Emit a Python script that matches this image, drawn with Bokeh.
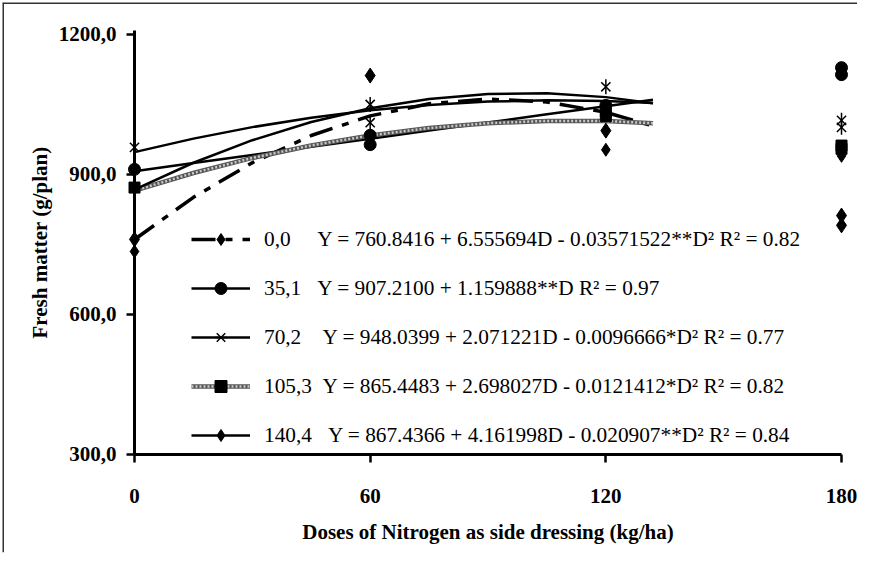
from bokeh.plotting import figure
from bokeh.models import Range1d, FixedTicker, Legend, LegendItem, Span
from bokeh.embed import file_html
from bokeh.resources import INLINE
import math

# ---- data ----
series_names = ["0,0", "35,1", "70,2", "105,3", "140,4"]
equations = [
    "Y = 760.8416 + 6.555694D - 0.03571522**D\u00b2 R\u00b2 = 0.82",
    "Y = 907.2100 + 1.159888**D R\u00b2 = 0.97",
    "Y = 948.0399 + 2.071221D - 0.0096666*D\u00b2 R\u00b2 = 0.77",
    "Y = 865.4483 + 2.698027D - 0.0121412*D\u00b2 R\u00b2 = 0.82",
    "Y = 867.4366 + 4.161998D - 0.020907**D\u00b2 R\u00b2 = 0.84",
]
label_gaps = [5, 3, 4, 2, 3]

# fitted curves (values along each regression line)
fit_x = [0, 15, 30, 45, 60, 75, 90, 105, 120, 132]
fit_00 = [760.8, 851.1, 925.4, 983.5, 1025.6, 1051.6, 1061.6, 1055.4, 1033.2, 1003.9]
fit_35 = [907.2, 924.6, 942.0, 959.4, 976.8, 994.2, 1011.6, 1029.0, 1046.4, 1060.3]
fit_70 = [948.0, 976.9, 1001.5, 1021.7, 1037.5, 1049.0, 1056.2, 1058.9, 1057.4, 1053.0]
fit_105 = [865.4, 903.2, 935.5, 962.3, 983.6, 999.5, 1009.9, 1014.9, 1014.4, 1010.0]
fit_140 = [867.4, 925.2, 973.5, 1012.4, 1041.9, 1062.0, 1072.7, 1073.9, 1065.8, 1052.5]

# observed points
obs_00_x = [0, 60, 120, 180, 180]
obs_00_y = [761, 1112, 994, 812, 791]
obs_35_x = [0, 60, 60, 120, 180, 180]
obs_35_y = [911, 984, 964, 1048, 1129, 1114]
obs_70_x = [0, 60, 60, 120, 180, 180]
obs_70_y = [958, 1050, 1011, 1088, 1016, 1001]
obs_105_x = [0, 120, 120, 180, 180]
obs_105_y = [872, 1035, 1025, 962, 955]
obs_140_x = [0, 120, 180]
obs_140_y = [735, 953, 940]

y_ticks = [300, 600, 900, 1200]
y_tick_labels = ["300,0", "600,0", "900,0", "1200,0"]
x_ticks = [0, 60, 120, 180]
x_title = "Doses of Nitrogen as side dressing (kg/ha)"
y_title = "Fresh matter (g/plan)"

FONT = "Liberation Serif"
X_START, X_END = -33.61, 184.07
Y_START, Y_END = 90.0, 1268.57

p = figure(width=857, height=554, output_backend="svg", toolbar_location=None,
           x_range=Range1d(X_START, X_END), y_range=Range1d(Y_START, Y_END),
           min_border_left=2, min_border_right=0, min_border_top=2,
           min_border_bottom=2)
p.grid.visible = False
p.outline_line_color = None
p.background_fill_color = "white"
p.border_fill_color = "white"

# chart-area border (left and top edges are inside the window)
p.add_layout(Span(location=X_START, dimension="height", line_color="#333333", line_width=3))
p.add_layout(Span(location=Y_END, dimension="width", line_color="#333333", line_width=3))

xa = p.xaxis[0]
ya = p.yaxis[0]
ya.fixed_location = 0
xa.fixed_location = 300
ya.bounds = (300, 1208)
xa.bounds = (0, 180)
ya.ticker = FixedTicker(ticks=y_ticks)
xa.ticker = FixedTicker(ticks=x_ticks)
ya.major_label_overrides = {t: l for t, l in zip(y_ticks, y_tick_labels)}
xa.major_label_overrides = {t: str(t) for t in x_ticks}
xa.axis_label = x_title
ya.axis_label = y_title
for ax in (xa, ya):
    ax.axis_line_width = 3
    ax.axis_line_color = "black"
    ax.major_tick_line_width = 2.5
    ax.major_tick_line_color = "black"
    ax.major_tick_out = 8
    ax.major_tick_in = 0
    ax.minor_tick_out = 0
    ax.minor_tick_in = 0
    ax.major_label_text_font = FONT
    ax.major_label_text_font_style = "bold"
    ax.major_label_text_font_size = "21px"
    ax.major_label_text_color = "black"
    ax.axis_label_text_font = FONT
    ax.axis_label_text_font_style = "bold"
    ax.axis_label_text_font_size = "21px"
    ax.axis_label_text_color = "black"
xa.major_label_standoff = 27
xa.axis_label_standoff = 13
ya.major_label_standoff = 10
ya.axis_label_standoff = 4

# lines
l00 = p.line(fit_x, fit_00, line_color="black", line_width=3.5, line_dash="24 10 7 10")
l35 = p.line(fit_x, fit_35, line_color="black", line_width=2.5)
l70 = p.line(fit_x, fit_70, line_color="black", line_width=2.5)
l105a = p.line(fit_x, fit_105, line_color="#555555", line_width=4.5)
l105b = p.line(fit_x, fit_105, line_color="#c8c8c8", line_width=2.5, line_dash="2 2")
l140 = p.line(fit_x, fit_140, line_color="black", line_width=2.5)

# markers
m00 = p.scatter(obs_00_x, obs_00_y, marker="diamond", size=15,
                fill_color="black", line_color="black")
m35 = p.scatter(obs_35_x, obs_35_y, marker="circle", size=12,
                fill_color="black", line_color="black")
m70a = p.scatter(obs_70_x, obs_70_y, marker="x", size=13, line_color="black", line_width=1.5)
m70b = p.scatter(obs_70_x, obs_70_y, marker="dash", angle=math.pi / 2, size=15,
                 line_color="black", line_width=1.5)
m105 = p.scatter(obs_105_x, obs_105_y, marker="square", size=11,
                 fill_color="black", line_color="black")
m140 = p.scatter(obs_140_x, obs_140_y, marker="diamond", size=13,
                 fill_color="black", line_color="black")

renderer_groups = [[l00, m00], [l35, m35], [l70, m70a, m70b], [l105a, l105b, m105], [l140, m140]]
items = []
for name, eq, gap, rs in zip(series_names, equations, label_gaps, renderer_groups):
    items.append(LegendItem(label=name + "\u00a0" * gap + eq, renderers=rs))

legend = Legend(items=items, location=(189, 102))
legend.background_fill_alpha = 0
legend.border_line_color = None
legend.padding = 0
legend.margin = 0
legend.glyph_width = 59
legend.glyph_height = 30
legend.label_height = 30
legend.spacing = 19
legend.label_standoff = 14
legend.label_text_font = FONT
legend.label_text_font_size = "21.3px"
legend.label_text_color = "black"
p.add_layout(legend)

open("out.html", "w").write(file_html(p, INLINE))
